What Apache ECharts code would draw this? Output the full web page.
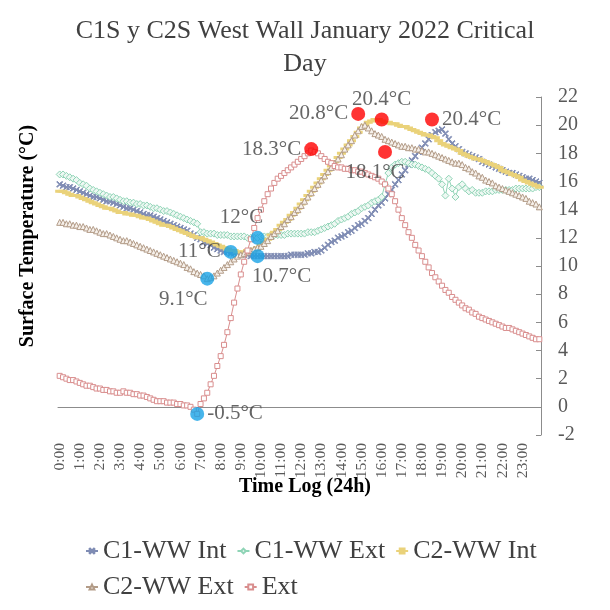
<!DOCTYPE html>
<html>
<head>
<meta charset="utf-8">
<script src="https://cdn.jsdelivr.net/npm/echarts@6/dist/echarts.min.js"></script>
<style>html,body{margin:0;padding:0;background:#fff}#c{width:610px;height:610px}</style>
</head>
<body>
<div id="c"></div>
<script>
// ---------- DATA ----------
const hourLabels = ['0:00','1:00','2:00','3:00','4:00','5:00','6:00','7:00','8:00','9:00','10:00','11:00',
  '12:00','13:00','14:00','15:00','16:00','17:00','18:00','19:00','20:00','21:00','22:00','23:00'];
const minuteSteps = ['00','10','20','30','40','50'];

const seriesNames = ['C1-WW Int','C1-WW Ext','C2-WW Int','C2-WW Ext','Ext'];

const c1Int = [
 15.8,15.7,15.6,15.6,15.5,15.4, 15.3,15.2,15.1,15.0,14.9,14.9, 14.8,14.7,14.6,14.6,14.5,14.4,
 14.3,14.2,14.1,14.1,14.0,13.9, 13.8,13.7,13.6,13.6,13.5,13.4, 13.3,13.2,13.1,13.0,12.9,12.8,
 12.7,12.6,12.5,12.3,12.2,12.0, 11.9,11.7,11.6,11.5,11.3,11.2, 11.1,11.0,11.0,10.9,10.9,10.8,
 10.8,10.8,10.8,10.7,10.7,10.7, 10.7,10.7,10.7,10.7,10.7,10.7, 10.7,10.7,10.7,10.8,10.8,10.8,
 10.8,10.8,10.9,10.9,11.0,11.0, 11.1,11.3,11.5,11.7,11.8,12.0, 12.1,12.2,12.4,12.5,12.7,12.9,
 13.0,13.2,13.4,13.7,14.0,14.3, 14.5,14.8,15.1,15.4,15.8,16.1, 16.5,16.8,17.2,17.5,17.8,18.1,
 18.4,18.7,19.0,19.3,19.5,19.6, 19.7,19.4,19.0,18.7,18.5,18.3, 18.1,18.0,17.9,17.8,17.7,17.6,
 17.4,17.3,17.2,17.1,17.0,16.9, 16.8,16.7,16.6,16.6,16.5,16.4, 16.3,16.2,16.2,16.1,16.0,15.9
];
const c1Ext = [
 16.5,16.5,16.4,16.3,16.2,16.1, 15.9,15.8,15.7,15.5,15.4,15.3, 15.2,15.1,15.0,14.9,14.9,14.8,
 14.7,14.6,14.6,14.5,14.5,14.4, 14.4,14.3,14.3,14.2,14.1,14.1, 14.0,13.9,13.9,13.8,13.7,13.6,
 13.5,13.4,13.3,13.2,13.1,13.0, 12.4,12.4,12.3,12.3,12.3,12.2, 12.2,12.2,12.2,12.1,12.1,12.1,
 12.1,12.1,12.0,12.0,12.0,12.0, 12.1,12.1,12.1,12.2,12.2,12.2, 12.2,12.2,12.3,12.3,12.3,12.3,
 12.3,12.3,12.4,12.4,12.4,12.5, 12.6,12.7,12.8,12.9,13.0,13.2, 13.3,13.4,13.5,13.7,13.8,13.9,
 14.1,14.2,14.3,14.5,14.6,14.7, 14.9,15.8,16.6,17.0,17.2,17.3, 17.4,17.4,17.3,17.2,17.2,17.1,
 17.0,16.9,16.8,16.6,16.4,16.2, 15.8,15.0,16.2,15.5,14.9,15.6, 15.8,15.5,15.3,15.4,15.2,15.2,
 15.2,15.3,15.3,15.3,15.4,15.4, 15.4,15.4,15.4,15.4,15.5,15.5, 15.5,15.5,15.5,15.5,15.6,15.6
];
const c2Int = [
 15.3,15.3,15.2,15.1,15.0,15.0, 14.9,14.8,14.7,14.6,14.5,14.4, 14.3,14.2,14.1,14.1,14.0,13.9,
 13.8,13.8,13.7,13.7,13.6,13.6, 13.5,13.4,13.4,13.3,13.2,13.1, 13.0,12.9,12.9,12.8,12.7,12.6,
 12.5,12.4,12.3,12.2,12.1,12.0, 12.0,11.9,11.8,11.7,11.6,11.5, 11.4,11.3,11.2,11.1,11.1,11.0,
 11.0,11.0,11.1,11.1,11.2,11.3, 11.5,11.7,11.9,12.2,12.4,12.6, 12.9,13.1,13.3,13.6,13.8,14.1,
 14.4,14.7,15.0,15.3,15.6,15.9, 16.2,16.5,16.8,17.1,17.4,17.7, 18.0,18.3,18.6,18.9,19.2,19.5,
 19.8,20.0,20.2,20.3,20.4,20.4, 20.3,20.2,20.2,20.1,20.1,20.0, 19.9,19.9,19.8,19.7,19.6,19.5,
 19.4,19.3,19.3,19.2,19.1,18.9, 18.7,18.6,18.5,18.4,18.3,18.2, 18.0,17.9,17.8,17.7,17.6,17.6,
 17.5,17.4,17.3,17.2,17.1,17.0, 16.8,16.7,16.6,16.5,16.4,16.3, 16.1,16.0,15.9,15.8,15.7,15.6
];
const c2Ext = [
 13.1,13.1,13.0,13.0,12.9,12.9, 12.8,12.8,12.7,12.6,12.6,12.5, 12.4,12.3,12.3,12.2,12.1,12.0,
 11.9,11.8,11.8,11.7,11.6,11.5, 11.4,11.3,11.2,11.1,11.0,10.9, 10.8,10.7,10.6,10.5,10.4,10.3,
 10.2,10.1,9.9,9.8,9.6,9.5, 9.4,9.3,9.1,9.2,9.3,9.5, 9.7,9.9,10.1,10.3,10.5,10.7,
 10.8,10.9,11.0,11.1,11.2,11.3, 11.4,11.6,11.8,12.1,12.3,12.5, 12.8,13.0,13.3,13.5,13.8,14.0,
 14.3,14.6,14.9,15.2,15.5,15.8, 16.1,16.4,16.7,17.0,17.3,17.6, 17.9,18.3,18.6,18.9,19.3,19.6,
 19.9,20.0,19.8,19.6,19.4,19.3, 19.2,19.0,18.9,18.8,18.7,18.6, 18.5,18.5,18.4,18.4,18.3,18.3,
 18.2,18.1,18.1,18.0,17.9,17.8, 17.7,17.6,17.5,17.4,17.3,17.3, 17.2,17.0,16.9,16.7,16.6,16.4,
 16.3,16.1,16.0,15.9,15.7,15.6, 15.5,15.4,15.3,15.2,15.1,15.0, 14.9,14.8,14.6,14.5,14.4,14.2
];
const extT = [
 2.2,2.1,2.0,1.9,1.9,1.8, 1.7,1.6,1.5,1.5,1.4,1.3, 1.3,1.2,1.2,1.1,1.1,1.0,
 1.0,1.1,1.0,1.0,0.9,0.9, 0.8,0.8,0.7,0.6,0.5,0.4, 0.4,0.4,0.3,0.3,0.3,0.2,
 0.2,0.1,0.1,0.0,-0.2,-0.5, 0.2,0.6,1.0,1.6,2.2,2.9, 3.6,4.4,5.3,6.3,7.4,8.4,
 9.4,10.3,11.1,11.9,12.7,13.4, 14.0,14.6,15.1,15.5,15.9,16.2, 16.4,16.6,16.8,17.0,17.2,17.4,
 17.6,17.8,18.0,18.2,18.1,18.0, 17.8,17.6,17.4,17.3,17.1,17.0, 17.0,16.9,16.9,16.8,16.8,16.7,
 16.7,16.6,16.5,16.4,16.3,16.2, 16.0,15.8,15.5,15.1,14.6,14.0, 13.4,12.9,12.4,12.0,11.5,11.1,
 10.7,10.3,9.9,9.5,9.2,8.9, 8.6,8.3,8.1,7.8,7.6,7.4, 7.2,7.0,6.9,6.7,6.6,6.4,
 6.3,6.2,6.1,6.0,5.9,5.8, 5.7,5.6,5.6,5.5,5.4,5.3, 5.2,5.1,5.0,4.9,4.8,4.8
];

// highlighted extreme points
const dotTimes  = ['6:50','7:20','8:30','9:50','9:50','12:30','14:50','16:00','16:10','18:30'];
const dotValues = [-0.5, 9.1, 11, 12, 10.7, 18.3, 20.8, 20.4, 18.1, 20.4];
const dotKinds  = ['min','min','min','min','min','max','max','max','max','max'];
const dotLabelPos = ['right','bottom','left','top','bottom','left','left','top','bottom','right'];
const dotLabelOffset = [[0,0],[-24,0],[0,0],[-16,0],[24,0],[0,0],[0,0],[0,0],[-10,0],[0,0]];

// ---------- BUILD ----------
const cats = [];
hourLabels.forEach((h, i) => minuteSteps.forEach(m => cats.push(i + ':' + m)));

const serif = '"Liberation Serif","Times New Roman",serif';
const styles = [
  {color:'#7f8cb4', symbol:'path://M0,1L1,0L5,4L9,0L10,1L6,5L10,9L9,10L5,6L1,10L0,9L4,5Z', size:6, fill:'#7f8cb4', lw:1},
  {color:'#8fd4b6', symbol:'diamond', size:7, fill:'#eef8f3', lw:1},
  {color:'#ead27a', symbol:'rect', size:[6,2], fill:'#ead27a', lw:1.5},
  {color:'#b39c88', symbol:'triangle', size:6, fill:'#f6f0ea', lw:1},
  {color:'#d98e8e', symbol:'rect', size:5, fill:'#fff', lw:1}
];
const allData = [c1Int, c1Ext, c2Int, c2Ext, extT];

const series = allData.map((d, i) => ({
  name: seriesNames[i],
  type: 'line',
  data: d,
  symbol: styles[i].symbol,
  symbolSize: styles[i].size,
  showAllSymbol: true,
  lineStyle: {color: styles[i].color, width: styles[i].lw},
  itemStyle: {color: styles[i].fill, borderColor: styles[i].color, borderWidth: 1},
  emphasis: {disabled: true},
  z: 2 + i
}));

series.push({
  type: 'scatter',
  name: 'extremes',
  symbolSize: 14,
  z: 20,
  data: dotTimes.map((t, i) => ({
    value: [t, dotValues[i]],
    itemStyle: {color: dotKinds[i] === 'max' ? '#ff0000' : '#19a3e6'},
    label: {show: true, position: dotLabelPos[i], offset: dotLabelOffset[i],
      formatter: dotValues[i] + '°C', fontFamily: serif, fontSize: 21, color: '#404040', distance: 3}
  }))
});

const chart = echarts.init(document.getElementById('c'), null, {renderer: 'canvas'});
chart.setOption({
  animation: false,
  backgroundColor: '#fff',
  title: {
    text: 'C1S y C2S West Wall January 2022 Critical\nDay',
    left: 'center', top: 10,
    textStyle: {fontFamily: serif, fontSize: 26, fontWeight: 'normal', color: '#404040', lineHeight: 33}
  },
  grid: {left: 58, right: 69, top: 97, bottom: 175},
  legend: {
    data: seriesNames,
    left: 80, top: 533, width: 470,
    itemWidth: 12, itemHeight: 6, itemGap: 10,
    textStyle: {fontFamily: serif, fontSize: 26, color: '#404040'}
  },
  xAxis: {
    type: 'category', data: cats, boundaryGap: true,
    axisLine: {lineStyle: {color: '#8c8c8c'}},
    axisTick: {inside: true, interval: 2, length: 4, lineStyle: {color: '#8c8c8c'}},
    axisLabel: {interval: 5, rotate: 90, fontFamily: serif, fontSize: 15.5, color: '#595959', margin: 8}
  },
  yAxis: {
    type: 'value', position: 'right', min: -2, max: 22, interval: 2,
    axisLine: {show: true, lineStyle: {color: '#8c8c8c'}},
    axisTick: {show: true, inside: true, length: 5, lineStyle: {color: '#8c8c8c'}},
    axisLabel: {fontFamily: serif, fontSize: 20, color: '#595959', margin: 17},
    splitLine: {show: false}
  },
  graphic: [
    {type: 'text', x: 28, y: 236, rotation: Math.PI / 2,
      style: {text: 'Surface Temperature (°C)', align: 'center', verticalAlign: 'middle',
        font: 'bold 20px ' + serif, fill: '#000'}},
    {type: 'text', x: 305, y: 487,
      style: {text: 'Time Log (24h)', align: 'center', verticalAlign: 'middle',
        font: 'bold 20px ' + serif, fill: '#000'}}
  ],
  series: series
});
</script>
</body>
</html>
